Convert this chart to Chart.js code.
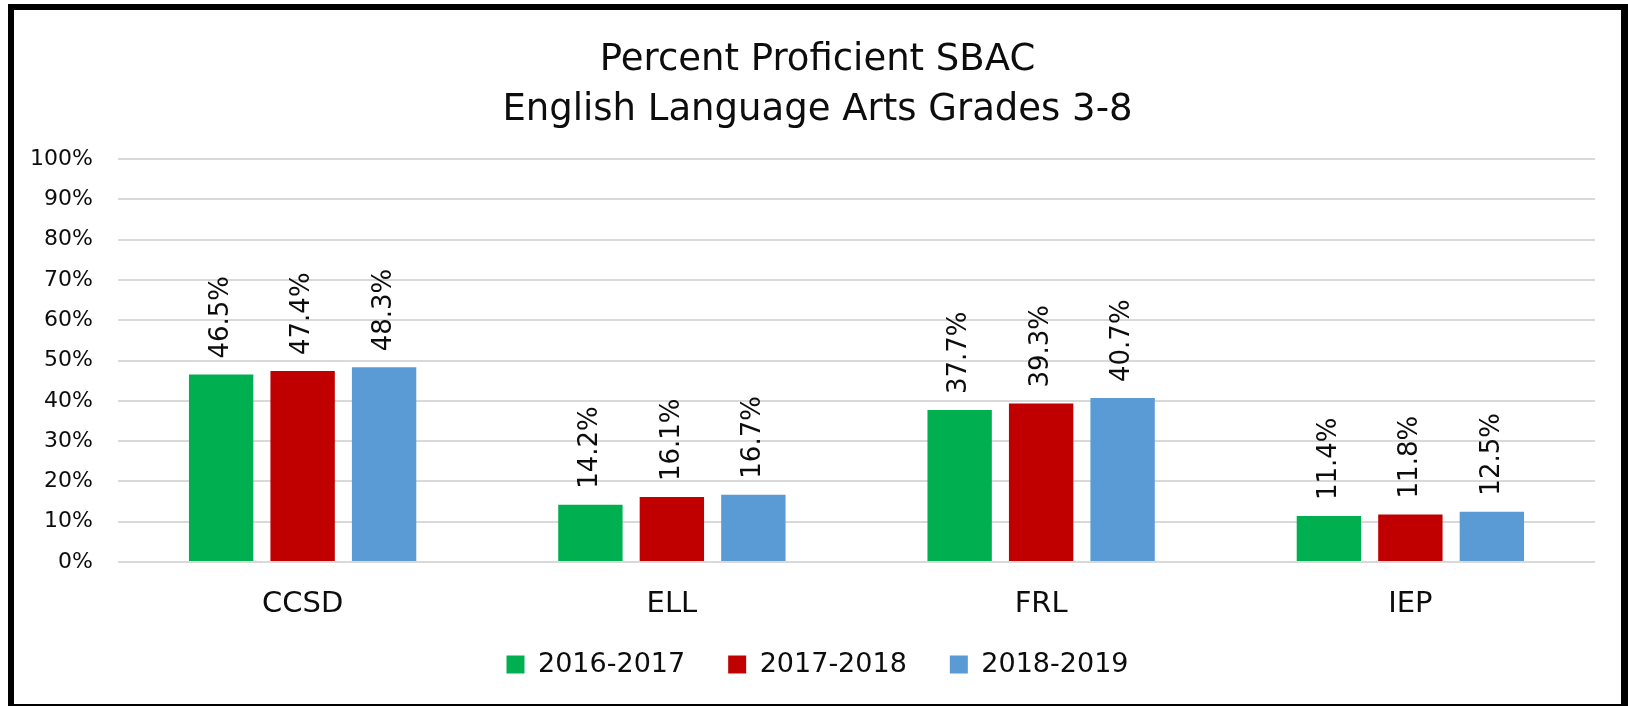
<!DOCTYPE html>
<html>
<head>
<meta charset="utf-8">
<title>Percent Proficient SBAC</title>
<script src="https://cdn.jsdelivr.net/npm/chart.js@4/dist/chart.umd.min.js"></script>
<style>
  html, body { margin: 0; padding: 0; background: #ffffff; }
  #wrap { position: relative; width: 1628px; height: 706px; overflow: hidden; }
  #chart { position: absolute; left: 0; top: 0; }
  /* marco negro alrededor del gráfico, como en la captura original */
  #frame {
    position: absolute; left: 8px; top: 4px; width: 1620px; height: 702px;
    box-sizing: border-box; pointer-events: none;
    border-left: 6px solid #000; border-top: 6px solid #000;
    border-right: 7px solid #000; border-bottom: 2px solid #000;
  }
</style>
</head>
<body>
<div id="wrap">
  <canvas id="chart" width="1628" height="706"></canvas>
  <div id="frame"></div>
</div>
<script>
// ---- datos ----
const titleLines = ['Percent Proficient SBAC', 'English Language Arts Grades 3-8'];
const groups = ['CCSD', 'ELL', 'FRL', 'IEP'];
const seriesNames = ['2016-2017', '2017-2018', '2018-2019'];
const values2016 = [46.5, 14.2, 37.7, 11.4];
const values2017 = [47.4, 16.1, 39.3, 11.8];
const values2018 = [48.3, 16.7, 40.7, 12.5];
const yTicks = [0, 10, 20, 30, 40, 50, 60, 70, 80, 90, 100];

const seriesColors = ['#00b050', '#c00000', '#5b9bd5'];
const FONT = "'DejaVu Sans', sans-serif";
const TEXT = '#0d0d0d';

// Etiquetas de valor rotadas 90° sobre cada barra (sin plugin externo).
const barValueLabels = {
  id: 'barValueLabels',
  afterDatasetsDraw(chart) {
    const { ctx } = chart;
    ctx.save();
    ctx.font = `26px ${FONT}`;
    ctx.fillStyle = TEXT;
    ctx.textAlign = 'left';
    ctx.textBaseline = 'middle';
    chart.data.datasets.forEach((ds, i) => {
      chart.getDatasetMeta(i).data.forEach((bar, j) => {
        ctx.save();
        ctx.translate(bar.x, bar.y - 16);
        ctx.rotate(-Math.PI / 2);
        ctx.fillText(ds.data[j].toFixed(1) + '%', 0, 0);
        ctx.restore();
      });
    });
    ctx.restore();
  },
};

// Chart.js recorta las etiquetas de eje a la caja de cada escala; aquí
// la caja se ensancha solo para el recorte (las posiciones no cambian).
const unclipTicks = {
  id: 'unclipTicks',
  afterLayout(chart) {
    chart.scales.y.left = 0;
    chart.scales.x.bottom = chart.height;
  },
};

const seriesValues = [values2016, values2017, values2018];

new Chart(document.getElementById('chart'), {
  type: 'bar',
  data: {
    labels: groups,
    datasets: seriesNames.map((name, i) => ({
      label: name,
      data: seriesValues[i],
      backgroundColor: seriesColors[i],
      borderWidth: 0,
      categoryPercentage: 0.662,
      barPercentage: 0.79,
    })),
  },
  options: {
    responsive: false,
    animation: false,
    devicePixelRatio: 1,
    layout: { padding: { left: 40, right: 33, top: 0, bottom: 18 } },
    plugins: {
      title: {
        display: true,
        text: titleLines,
        color: TEXT,
        font: { family: FONT, size: 37, weight: 'normal', lineHeight: 1.35 },
        padding: { top: 35.5, bottom: 23.6 },
      },
      legend: {
        position: 'bottom',
        labels: {
          color: TEXT,
          font: { family: FONT, size: 27 },
          boxWidth: 18,
          boxHeight: 18,
          padding: 43,
        },
      },
      tooltip: { enabled: false },
    },
    scales: {
      x: {
        grid: { display: false },
        border: { display: false },
        ticks: { color: TEXT, font: { family: FONT, size: 29 }, padding: 17, maxRotation: 0 },
        afterFit: (scale) => { scale.height = 46; },
      },
      y: {
        min: yTicks[0],
        max: yTicks[yTicks.length - 1],
        afterBuildTicks: (scale) => { scale.ticks = yTicks.map((v) => ({ value: v })); },
        grid: { color: '#d9d9d9', lineWidth: 2, drawTicks: false },
        border: { display: false },
        ticks: {
          color: TEXT,
          font: { family: FONT, size: 22 },
          padding: 25,
          callback: (v) => v + '%',
        },
        afterFit: (scale) => { scale.width = 78; },
      },
    },
  },
  plugins: [barValueLabels, unclipTicks],
});
</script>
</body>
</html>
